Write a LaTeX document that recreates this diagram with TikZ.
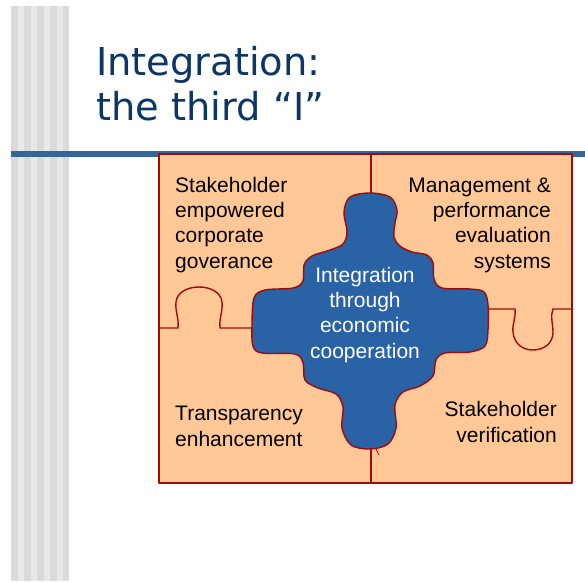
\documentclass[tikz,border=0pt]{standalone}
\usepackage{fontspec}
\setmainfont{Liberation Sans}
\newfontfamily\titlefont{DejaVu Sans}
\usepackage{xcolor}
\usepackage{tikz}

\definecolor{barlight}{HTML}{E8E8E8}
\definecolor{bardark}{HTML}{DADADA}
\definecolor{rule}{HTML}{35669A}
\definecolor{navy}{HTML}{0B3766}
\definecolor{peach}{HTML}{FFC896}
\definecolor{edge}{HTML}{A00A0A}
\definecolor{core}{HTML}{2962A5}

\begin{document}
\begin{tikzpicture}[x=1pt, y=-1pt,
  piece/.style={draw=edge, line width=1.4pt, line join=round},
  cut/.style={draw=edge, line width=1.4pt},
  lbl/.style={inner sep=0pt, font=\fontsize{21}{25.3}\selectfont},
  title/.style={inner sep=0pt, text=navy, align=left, font=\titlefont\fontsize{38.4}{45}\selectfont}]
\useasboundingbox (0,0) rectangle (585,581);

% striped side bar
\fill[barlight] (11,6) rectangle (69,581);
\foreach \i in {0,...,4}
  \fill[bardark] ({11+13*\i},6) rectangle ({min(18+13*\i,69)},581);

% rule under the heading
\fill[rule] (11,151) rectangle (585,157);

% (base of a multi-line node = last line)
\node[title, anchor=base west] (head) at (96,120) {Integration:\\the third “I”};

% outer board
\path[piece, fill=peach] (159,154) rectangle (572,483);

% seams between the outer pieces
\draw[cut] (371,154) -- (371,194);
\draw[cut] (371,447) -- (371,483);
\draw[cut] (159,328) -- (178,328)
  .. controls (179,318) and (175,311) .. (176,302)
  .. controls (177,292) and (188,287) .. (199,287)
  .. controls (210,287) and (221,292) .. (222,302)
  .. controls (223,311) and (219,318) .. (220,328) -- (253,328);
\draw[cut] (487,309) -- (515,309)
  .. controls (516,318) and (512,324) .. (513,332)
  .. controls (514,344) and (523,350) .. (533,350)
  .. controls (543,350) and (553,344) .. (553,332)
  .. controls (553,324) and (550,316) .. (553,309) -- (572,309);

% centre piece
\path[piece, fill=core] plot[smooth cycle, tension=0.55] coordinates {
  (370,193) (390,197) (397,210) (395,223) (394,237) (400,246) (412,252)
  (427,255) (433,263) (434,279) (442,288) (470,289) (484,292) (488,305)
  (488,330) (485,346) (470,352) (445,353) (436,360) (433,376) (420,386)
  (403,392) (395,405) (396,428) (388,444) (370,449) (351,445) (342,428)
  (343,407) (336,394) (318,388) (305,380) (303,363) (295,354) (262,353)
  (253,346) (252,325) (254,298) (265,290) (293,288) (303,281) (304,265)
  (312,256) (330,250) (343,244) (347,232) (344,212) (350,197)};
\draw[edge, line width=0.8pt] (376,449) -- (379,455);

% labels
\node[lbl, anchor=base west, align=left] (gov) at (175,268)
  {Stakeholder\\empowered\\corporate\\goverance};
\node[lbl, anchor=base east, align=right] (mgmt) at (551,268)
  {Management \&\\performance\\evaluation\\systems};
\node[lbl, anchor=base, align=center, text=white] (integ) at (365,358)
  {Integration\\through\\economic\\cooperation};
\node[lbl, anchor=base west, align=left] (transp) at (175,446)
  {Transparency\\enhancement};
\node[lbl, anchor=base east, align=right] (verif) at (557,442)
  {Stakeholder\\verification};
\end{tikzpicture}
\end{document}
